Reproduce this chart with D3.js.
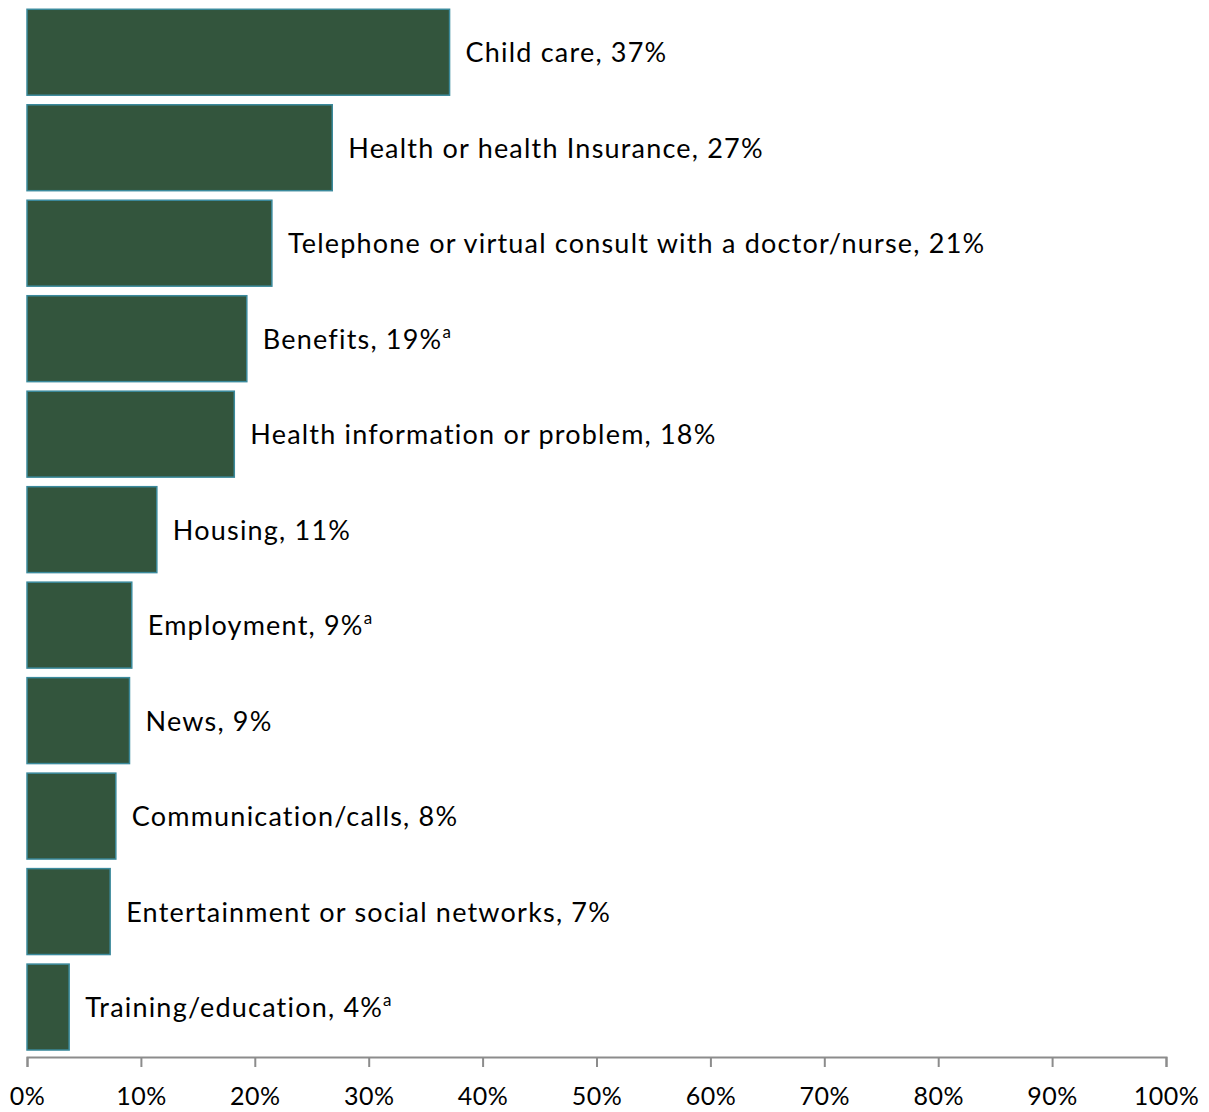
<!DOCTYPE html>
<html>
<head>
<meta charset="utf-8">
<script src="https://cdn.jsdelivr.net/npm/d3@7"></script>
<style>
  body { margin: 0; background: #fff; }
  text { font-family: Lato, "Open Sans", sans-serif; }
</style>
</head>
<body>
<div id="chart"></div>
<script>
// categories, top to bottom
var categories = [
  "Child care",
  "Health or health Insurance",
  "Telephone or virtual consult with a doctor/nurse",
  "Benefits",
  "Health information or problem",
  "Housing",
  "Employment",
  "News",
  "Communication/calls",
  "Entertainment or social networks",
  "Training/education"
];
// bar lengths (%)
var values = [37.1, 26.8, 21.5, 19.3, 18.2, 11.4, 9.2, 9.0, 7.8, 7.3, 3.7];
// rounded numbers shown in labels
var labelValues = [37, 27, 21, 19, 18, 11, 9, 9, 8, 7, 4];
// footnote marks
var notes = ["", "", "", "a", "", "", "a", "", "", "", "a"];
var xTicks = [0, 10, 20, 30, 40, 50, 60, 70, 80, 90, 100];

var width = 1209, height = 1112;

var svg = d3.select("#chart").append("svg")
  .attr("width", width)
  .attr("height", height);

var x = d3.scaleLinear().domain([0, 100]).range([27, 1166]);
var y = d3.scaleBand().domain(categories).range([4.5, 1054.8]).paddingInner(0.1).paddingOuter(0.05);

// bars
svg.selectAll("rect.bar")
  .data(categories)
  .enter().append("rect")
  .attr("class", "bar")
  .attr("x", x(0))
  .attr("y", function (d) { return y(d); })
  .attr("width", function (d, i) { return x(values[i]) - x(0); })
  .attr("height", y.bandwidth())
  .attr("fill", "#33553d")
  .attr("stroke", "#3b8a9c")
  .attr("stroke-width", 1.5);

// labels
var labels = svg.selectAll("text.lab")
  .data(categories)
  .enter().append("text")
  .attr("class", "lab")
  .attr("x", function (d, i) { return x(values[i]) + 16; })
  .attr("y", function (d) { return y(d) + y.bandwidth() / 2 + 10; })
  .attr("font-size", 27)
  .attr("letter-spacing", 1.2)
  .attr("fill", "#000");

labels.append("tspan").text(function (d, i) { return d + ", " + labelValues[i] + "%"; });
labels.append("tspan")
  .attr("dy", -11)
  .attr("font-size", 17)
  .text(function (d, i) { return notes[i]; });

// x axis
var axis = d3.axisBottom(x)
  .tickValues(xTicks)
  .tickSize(10)
  .tickFormat(function (d) { return d + "%"; });

var gx = svg.append("g")
  .attr("transform", "translate(0,1057)")
  .call(axis);

gx.select(".domain").attr("stroke", "#8c8c8c").attr("stroke-width", 2);
gx.selectAll(".tick line").attr("stroke", "#8c8c8c").attr("stroke-width", 2);
gx.selectAll(".tick text")
  .attr("y", 30)
  .attr("font-size", 25)
  .attr("letter-spacing", 0.5)
  .attr("font-family", "Lato, sans-serif")
  .attr("fill", "#000");
</script>
</body>
</html>
